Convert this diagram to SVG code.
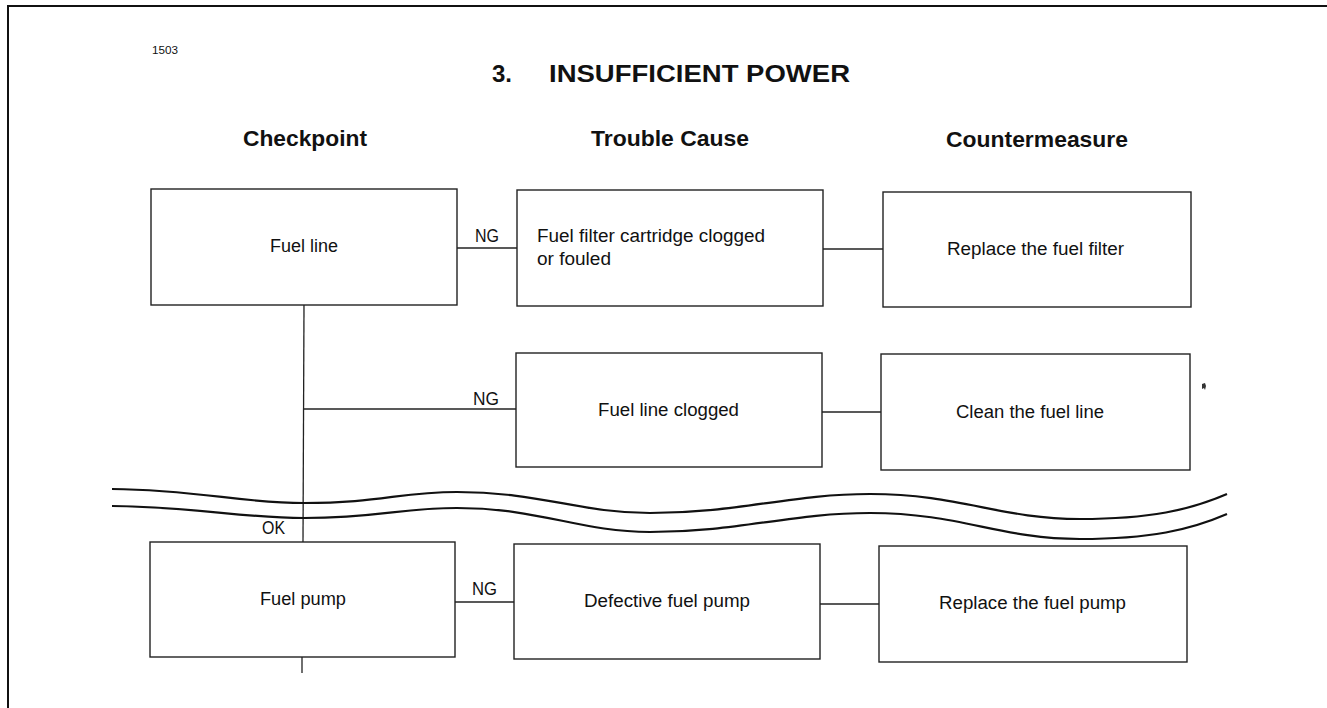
<svg xmlns="http://www.w3.org/2000/svg" width="1327" height="708" viewBox="0 0 1327 708">
<style>
.box{fill:#fff;stroke:#222;stroke-width:1.4}
.ln{fill:none;stroke:#222;stroke-width:1.3}
.wave{fill:none;stroke:#111;stroke-width:2.2}
.frame{fill:none;stroke:#111;stroke-width:2}
.t{font-family:"Liberation Sans",Arial,sans-serif;font-size:18px;fill:#111}
.h{font-family:"Liberation Sans",Arial,sans-serif;font-size:22px;font-weight:bold;fill:#111}
.ti{font-family:"Liberation Sans",Arial,sans-serif;font-size:24px;font-weight:bold;fill:#111}
.s{font-family:"Liberation Sans",Arial,sans-serif;font-size:10px;fill:#111}
</style>
<rect width="1327" height="708" fill="#fff"/>
<path class="frame" d="M8,708 V6 H1327"/>
<text class="s" x="152" y="54" textLength="26" lengthAdjust="spacingAndGlyphs">1503</text>
<text class="ti" y="82"><tspan x="492">3.</tspan><tspan x="549" textLength="301" lengthAdjust="spacingAndGlyphs">INSUFFICIENT POWER</tspan></text>
<text class="h" x="243" y="146" textLength="124" lengthAdjust="spacingAndGlyphs">Checkpoint</text>
<text class="h" x="591" y="146" textLength="158" lengthAdjust="spacingAndGlyphs">Trouble Cause</text>
<text class="h" x="946" y="147" textLength="182" lengthAdjust="spacingAndGlyphs">Countermeasure</text>

<g id="connectors">
<line class="ln" x1="457" y1="248" x2="517" y2="248"/>
<line class="ln" x1="823" y1="249" x2="883" y2="249"/>
<line class="ln" x1="304" y1="305" x2="303" y2="542"/>
<line class="ln" x1="304" y1="409" x2="516" y2="409"/>
<line class="ln" x1="822" y1="412" x2="881" y2="412"/>
<line class="ln" x1="455" y1="602" x2="514" y2="602"/>
<line class="ln" x1="820" y1="604" x2="879" y2="604"/>
<line class="ln" x1="302" y1="657" x2="302" y2="673"/>
<text class="t" x="475" y="242" textLength="24" lengthAdjust="spacingAndGlyphs">NG</text>
<text class="t" x="473" y="405" textLength="26" lengthAdjust="spacingAndGlyphs">NG</text>
<text class="t" x="472" y="595" textLength="25" lengthAdjust="spacingAndGlyphs">NG</text>
<text class="t" x="262" y="534" textLength="23" lengthAdjust="spacingAndGlyphs">OK</text>
</g>

<g id="break">
<path class="wave" d="M112,489 C200,490 240,503 304,503 C380,503 400,492 457,492 C540,492 580,513 650,513 C740,513 790,494 870,494 C960,494 1000,519 1080,519 C1150,519 1190,510 1227,494"/>
<path class="wave" d="M112,506 C200,507 240,518 304,518 C380,518 400,508 457,508 C540,508 580,532 650,532 C740,532 790,513 870,513 C960,513 1000,539 1080,539 C1150,539 1190,530 1227,514"/>
</g>

<g id="n-fuel-line">
<rect class="box" x="151" y="189" width="306" height="116"/>
<text class="t" x="270" y="252" textLength="68" lengthAdjust="spacingAndGlyphs">Fuel line</text>
</g>
<g id="n-filter-clogged">
<rect class="box" x="517" y="190" width="306" height="116"/>
<text class="t" x="537" y="242" textLength="228" lengthAdjust="spacingAndGlyphs">Fuel filter cartridge clogged</text>
<text class="t" x="537" y="265" textLength="74" lengthAdjust="spacingAndGlyphs">or fouled</text>
</g>
<g id="n-replace-filter">
<rect class="box" x="883" y="192" width="308" height="115"/>
<text class="t" x="947" y="255" textLength="177" lengthAdjust="spacingAndGlyphs">Replace the fuel filter</text>
</g>
<g id="n-line-clogged">
<rect class="box" x="516" y="353" width="306" height="114"/>
<text class="t" x="598" y="416" textLength="141" lengthAdjust="spacingAndGlyphs">Fuel line clogged</text>
</g>
<g id="n-clean-line">
<rect class="box" x="881" y="354" width="309" height="116"/>
<text class="t" x="956" y="418" textLength="148" lengthAdjust="spacingAndGlyphs">Clean the fuel line</text>
</g>
<g id="n-fuel-pump">
<rect class="box" x="150" y="542" width="305" height="115"/>
<text class="t" x="260" y="605" textLength="86" lengthAdjust="spacingAndGlyphs">Fuel pump</text>
</g>
<g id="n-defective-pump">
<rect class="box" x="514" y="544" width="306" height="115"/>
<text class="t" x="584" y="607" textLength="166" lengthAdjust="spacingAndGlyphs">Defective fuel pump</text>
</g>
<g id="n-replace-pump">
<rect class="box" x="879" y="546" width="308" height="116"/>
<text class="t" x="939" y="609" textLength="187" lengthAdjust="spacingAndGlyphs">Replace the fuel pump</text>
</g>
<path d="M1202,384 l3,-1 l1,3 l-1,4 l-1,-2 l-2,1 z" fill="#333"/>
</svg>
